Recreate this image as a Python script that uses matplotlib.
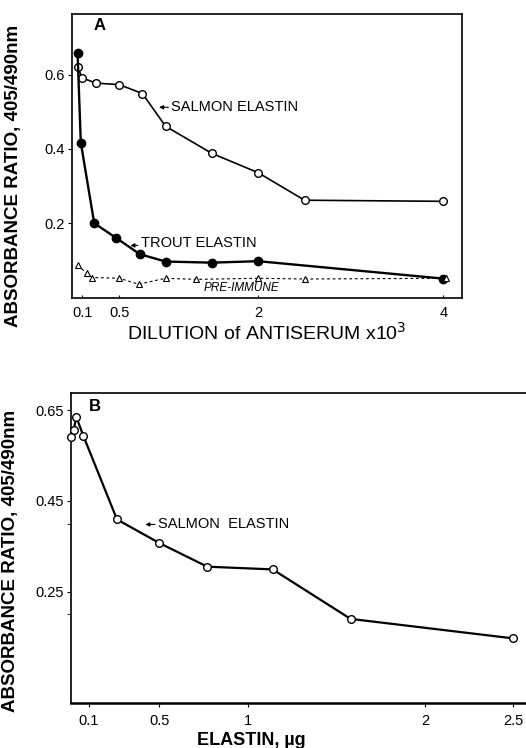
#!/usr/bin/env python3
# Two-panel ELISA absorbance chart: (A) antiserum dilution, (B) elastin amount

import matplotlib
matplotlib.use("Agg")
import matplotlib.pyplot as plt

plt.rcParams["font.family"] = ["Liberation Sans", "DejaVu Sans"]

# panel A: dilution of antiserum x10^3
salmon_a_x = [0.05, 0.1, 0.25, 0.5, 0.75, 1.0, 1.5, 2.0, 2.5, 4.0]
salmon_a_y = [0.621, 0.591, 0.577, 0.573, 0.549, 0.461, 0.388, 0.336, 0.262, 0.259]
trout_a_x = [0.05, 0.085, 0.23, 0.47, 0.72, 1.0, 1.5, 2.0, 4.0]
trout_a_y = [0.659, 0.417, 0.200, 0.160, 0.117, 0.097, 0.094, 0.098, 0.051]
pre_a_x = [0.05, 0.155, 0.21, 0.5, 0.71, 1.0, 1.33, 2.0, 2.5, 4.03]
pre_a_y = [0.087, 0.065, 0.054, 0.052, 0.036, 0.052, 0.049, 0.052, 0.050, 0.052]
ticks_a_x = [0.1, 0.5, 2, 4]
ticks_a_y = [0.2, 0.4, 0.6]
ticklabels_a_y = ["0.2", "0.4", "0.6"]

# panel B: elastin, ug
salmon_b_x = [0.0, 0.015, 0.03, 0.07, 0.26, 0.5, 0.77, 1.14, 1.58, 2.5]
salmon_b_y = [0.590, 0.607, 0.635, 0.593, 0.409, 0.357, 0.305, 0.299, 0.190, 0.147]
ticks_b_x = [0.1, 0.5, 1, 2, 2.5]
ticks_b_y = [0.25, 0.45, 0.65]
minor_b_y = [0.20, 0.40]

fig = plt.figure(figsize=(5.26, 7.48), dpi=100)
arrow = dict(arrowstyle="-|>", color="black", lw=0.8, mutation_scale=6,
             shrinkA=0, shrinkB=0)

# ---- panel A ----
axA = fig.add_axes([72 / 526, 1 - 297.6 / 748, 390 / 526, 283.6 / 748])
axA.plot(salmon_a_x, salmon_a_y, "-o", color="black", lw=1.2, ms=5.5,
         mfc="white", mec="black", mew=1.0, clip_on=False, zorder=3)
axA.plot(trout_a_x, trout_a_y, "-o", color="black", lw=1.7, ms=6,
         mfc="black", mec="black", clip_on=False, zorder=3)
axA.plot(pre_a_x, pre_a_y, "--^", color="black", lw=0.8, ms=4.5,
         mfc="white", mec="black", mew=0.8, dashes=(2.5, 2.5), clip_on=False, zorder=3)
axA.set_xlim(-0.01, 4.2)
axA.set_ylim(0, 0.763)
axA.set_xticks(ticks_a_x)
axA.set_xticklabels(["0.1", "0.5", "2", "4"])
axA.set_yticks(ticks_a_y)
axA.set_yticklabels(ticklabels_a_y)
axA.tick_params(axis="x", length=2.5, direction="in", labelsize=10.5, pad=6)
axA.tick_params(axis="y", length=3, direction="out", labelsize=10.5, pad=2)
for s in axA.spines.values():
    s.set_linewidth(1.2)
axA.text(0.29, 0.733, "A", fontsize=12, fontweight="bold", ha="center", va="center")
axA.annotate("SALMON ELASTIN", xy=(0.93, 0.512), xytext=(1.06, 0.512),
             fontsize=10.5, va="center", arrowprops=arrow)
axA.annotate("TROUT ELASTIN", xy=(0.62, 0.14), xytext=(0.73, 0.146),
             fontsize=10.5, va="center", arrowprops=arrow)
axA.text(1.82, 0.026, "PRE-IMMUNE", fontsize=8.5, style="italic",
         ha="center", va="center")
axA.set_ylabel("ABSORBANCE RATIO, 405/490nm", fontsize=13.5, fontweight="bold")
axA.yaxis.set_label_coords(-0.128, 0.43)
axA.set_xlabel("DILUTION of ANTISERUM x10$^3$", fontsize=14)
axA.xaxis.set_label_coords(0.5, -0.086)

# ---- panel B ----
axB = fig.add_axes([71 / 526, 1 - 703.3 / 748, 460 / 526, 310 / 748])
axB.plot(salmon_b_x, salmon_b_y, "-o", color="black", lw=1.6, ms=5.5,
         mfc="white", mec="black", mew=1.0, clip_on=False, zorder=3)
axB.set_xlim(0, 2.6)
axB.set_ylim(0.004, 0.687)
axB.set_xticks(ticks_b_x)
axB.set_xticklabels(["0.1", "0.5", "1", "2", "2.5"])
axB.set_yticks(ticks_b_y)
axB.set_yticklabels(["0.25", "0.45", "0.65"])
axB.set_yticks(minor_b_y, minor=True)
axB.tick_params(axis="both", which="both", length=3, direction="out",
                labelsize=10.5, pad=2)
axB.tick_params(axis="x", pad=5)
axB.spines["right"].set_visible(False)
for s in axB.spines.values():
    s.set_linewidth(1.2)
axB.spines["bottom"].set_linewidth(1.8)
axB.text(0.136, 0.657, "B", fontsize=12, fontweight="bold", ha="center", va="center")
axB.annotate("SALMON  ELASTIN", xy=(0.42, 0.398), xytext=(0.49, 0.398),
             fontsize=10.5, va="center", arrowprops=arrow)
axB.set_ylabel("ABSORBANCE RATIO, 405/490nm", fontsize=13.5, fontweight="bold")
axB.yaxis.set_label_coords(-0.113, 0.459)
axB.set_xlabel("ELASTIN, µg", fontsize=13, fontweight="bold")
axB.xaxis.set_label_coords(0.391, -0.092)

fig.savefig("out.png", dpi=100)
print("saved out.png")
